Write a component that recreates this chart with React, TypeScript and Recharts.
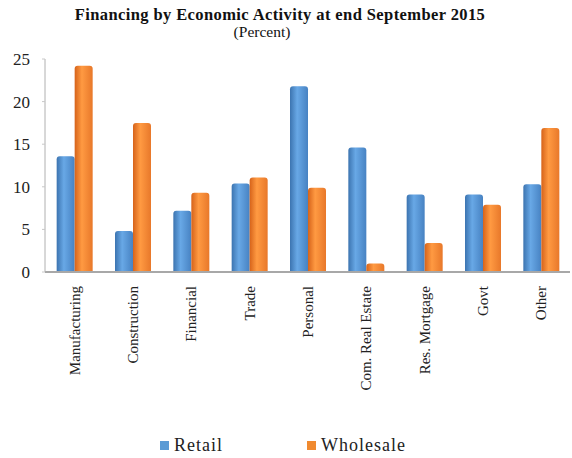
import { BarChart, Bar, XAxis, YAxis, Legend } from "recharts";

const categories = [
  "Manufacturing",
  "Construction",
  "Financial",
  "Trade",
  "Personal",
  "Com. Real Estate",
  "Res. Mortgage",
  "Govt",
  "Other",
];
const retail = [13.6, 4.8, 7.2, 10.4, 21.8, 14.6, 9.1, 9.1, 10.3];
const wholesale = [24.2, 17.5, 9.3, 11.1, 9.9, 1.0, 3.4, 7.9, 16.9];
const yTicks = [0, 5, 10, 15, 20, 25];

const SERIF = "Liberation Serif, Times New Roman, serif";
const BLUE = "#5b9bd5";
const ORANGE = "#f08a30";

const data = categories.map((name, i) => ({
  name,
  Retail: retail[i],
  Wholesale: wholesale[i],
}));

function renderLegend() {
  const items = [
    { label: "Retail", color: BLUE },
    { label: "Wholesale", color: ORANGE },
  ];
  return (
    <div style={{ display: "flex", justifyContent: "center", gap: 84, fontFamily: SERIF, fontSize: 18, letterSpacing: 1, color: "#222", marginLeft: -6 }}>
      {items.map((it) => (
        <div key={it.label} style={{ display: "flex", alignItems: "center", gap: 5 }}>
          <span style={{ width: 9, height: 9, background: it.color, display: "inline-block" }} />
          <span>{it.label}</span>
        </div>
      ))}
    </div>
  );
}

export default function App() {
  return (
    <div style={{ position: "absolute", left: 0, top: 0, width: 572, height: 458, background: "#fff" }}>
      <div style={{ position: "absolute", top: 5, left: 0, width: 560, textAlign: "center", fontFamily: SERIF, color: "#111" }}>
        <div style={{ fontWeight: "bold", fontSize: 16.5, letterSpacing: 0.4 }}>
          Financing by Economic Activity at end September 2015
        </div>
        <div style={{ fontSize: 15.5, marginTop: -2, marginLeft: -36 }}>(Percent)</div>
      </div>
      <BarChart
        width={572}
        height={458}
        data={data}
        margin={{ top: 59, right: 2, bottom: 0, left: 0 }}
        barGap={0}
        barCategoryGap="20%"
      >
        <defs>
          <linearGradient id="gBlue" x1="0" y1="0" x2="1" y2="0">
            <stop offset="0%" stopColor="#3c74b0" />
            <stop offset="40%" stopColor="#68a8e6" />
            <stop offset="100%" stopColor="#4782c2" />
          </linearGradient>
          <linearGradient id="gOrange" x1="0" y1="0" x2="1" y2="0">
            <stop offset="0%" stopColor="#d6631a" />
            <stop offset="40%" stopColor="#ff9a42" />
            <stop offset="100%" stopColor="#e8782a" />
          </linearGradient>
        </defs>
        <XAxis
          dataKey="name"
          interval={0}
          angle={-90}
          textAnchor="end"
          height={165}
          tickLine={false}
          axisLine={{ stroke: "#a8a8a8", strokeWidth: 2 }}
          tick={{ fontFamily: SERIF, fontSize: 15, fill: "#222", dx: -5, dy: 6 }}
        />
        <YAxis
          domain={[0, 25]}
          ticks={yTicks}
          width={45}
          tickSize={3}
          tickMargin={12}
          axisLine={{ stroke: "#b0b0b0" }}
          tickLine={{ stroke: "#c8c8c8" }}
          tick={{ fontFamily: SERIF, fontSize: 17, fill: "#222" }}
        />
        <Legend content={renderLegend} wrapperStyle={{ top: 435, left: 0, width: 572 }} />
        <Bar dataKey="Retail" fill="url(#gBlue)" radius={[3, 3, 0, 0]} isAnimationActive={false} legendType="square" />
        <Bar dataKey="Wholesale" fill="url(#gOrange)" radius={[3, 3, 0, 0]} isAnimationActive={false} legendType="square" />
      </BarChart>
    </div>
  );
}
